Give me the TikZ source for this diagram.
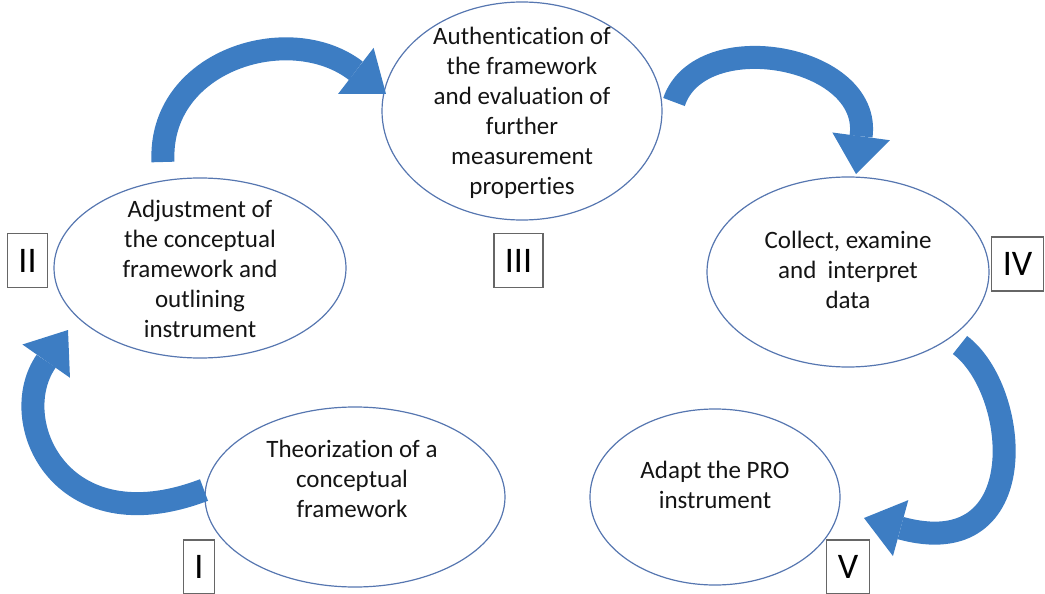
\documentclass[tikz,border=0pt]{standalone}
\usepackage{fontspec}
\setmainfont{Carlito}[Ligatures=NoCommon]
\usetikzlibrary{arrows.meta,shapes.geometric}
\definecolor{rim}{HTML}{5676B0}
\definecolor{flow}{HTML}{3D7DC3}
\definecolor{boxline}{HTML}{666666}

\tikzset{
  stage/.style={ellipse, draw=rim, line width=1.2pt, inner sep=0pt},
  stagetext/.style={align=center, font=\fontsize{25}{30}\selectfont, text=black!92},
  numbox/.style={draw=boxline, line width=1.4pt, inner xsep=11pt, inner ysep=0pt,
    minimum height=54pt, font=\fontsize{36}{36}\selectfont},
  flowarrow/.style={draw=flow, line width=23pt,
    -{Triangle[width=58pt,length=38pt,line width=0pt]}}
}

\begin{document}
\begin{tikzpicture}[x=1pt, y=-1pt]
    \useasboundingbox (0, 0) rectangle (1045, 594);
    % stages
    \node[stage, minimum width=280, minimum height=218] (s3) at (522, 111) {};
    \node[stage, minimum width=292, minimum height=180] (s2) at (200, 268) {};
    \node[stage, minimum width=282, minimum height=190] (s4) at (848, 272) {};
    \node[stage, minimum width=300, minimum height=180] (s1) at (355, 497) {};
    \node[stage, minimum width=250, minimum height=176] (s5) at (715, 497) {};
    \node[stagetext] (t3) at (522, 113) {Authentication of\\the framework\\and evaluation of\\further\\measurement\\properties};
    \node[stagetext] (t2) at (200, 269) {Adjustment of\\the conceptual\\framework and\\outlining\\instrument};
    \node[stagetext] (t4) at (848, 270) {Collect, examine\\and\ \ interpret\\data};
    \node[stagetext] (t1) at (352, 479) {Theorization of a\\conceptual\\framework};
    \node[stagetext] (t5) at (715, 485) {Adapt the PRO\\instrument};
    % numbers
    \node[numbox] (n2) at (27.5, 260.5) {II};
    \node[numbox] (n3) at (518.5, 260.5) {III};
    \node[numbox] (n4) at (1017.5, 264) {IV};
    \node[numbox] (n1) at (199, 567) {I};
    \node[numbox] (n5) at (848, 567) {V};
    % arrow ends
    \coordinate (a1s) at (163, 162);
    \coordinate (a1e) at (386, 94);
    \coordinate (a2s) at (674, 102);
    \coordinate (a2e) at (856, 174);
    \coordinate (a3s) at (960, 345);
    \coordinate (a3e) at (864, 518);
    \coordinate (a4s) at (204, 490);
    \coordinate (a4e) at (68, 330);
    % flow
    \draw[flowarrow] (a1s) .. controls (158, 60) and (290, 20) .. (a1e);
    \draw[flowarrow] (a2s) .. controls (700, 25) and (872, 55) .. (a2e);
    \draw[flowarrow] (a3s) .. controls (1020, 390) and (1035, 565) .. (a3e);
    \draw[flowarrow] (a4s) .. controls (60, 545) and (5, 420) .. (a4e);
\end{tikzpicture}
\end{document}
